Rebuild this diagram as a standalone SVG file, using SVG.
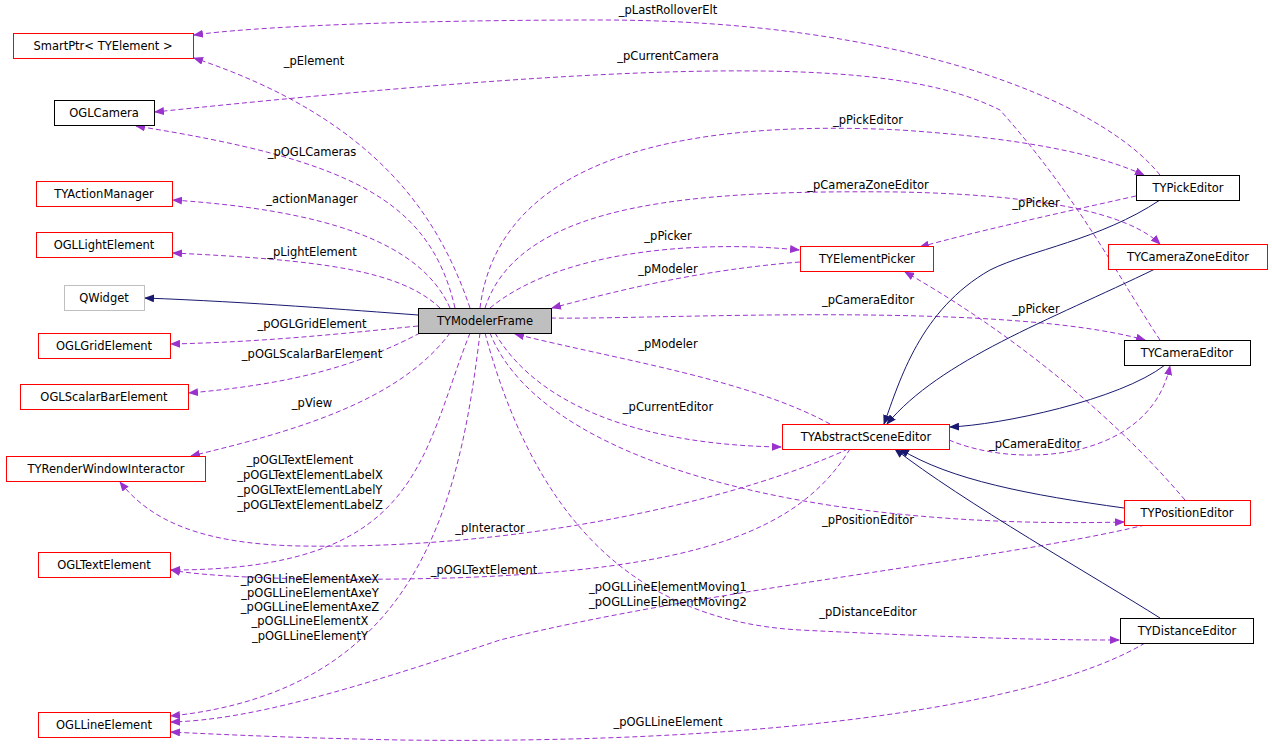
<svg xmlns="http://www.w3.org/2000/svg" width="1272" height="748" viewBox="0 0 1272 748">
<style>
text{font-family:"DejaVu Sans",sans-serif;font-size:11.5px;fill:#000}
.n rect{fill:#fff;stroke:#f00;stroke-width:1}
.k rect{stroke:#000}
.g rect{stroke:#bfbfbf}
.e path{fill:none}
.d{stroke:#9a32cd;stroke-dasharray:5,3}
.i{stroke:#191970}
.lt{text-anchor:middle}
</style>
<defs>
<marker id="ap" markerWidth="10" markerHeight="8" refX="9" refY="4" orient="auto" markerUnits="userSpaceOnUse"><path d="M0,0L10,4L0,8z" fill="#9a32cd"/></marker>
<marker id="an" markerWidth="10" markerHeight="8" refX="9" refY="4" orient="auto" markerUnits="userSpaceOnUse"><path d="M0,0L10,4L0,8z" fill="#191970"/></marker>
</defs>
<rect width="1272" height="748" fill="#fff"/>
<g class="e">
<g class="d" marker-end="url(#ap)">
<path d="M1160,175C1100,100 900,20 600,20C400,20 250,27 194,35"/>
<path d="M470,308C440,220 380,120 194,58"/>
<path d="M1160,340C1120,280 1080,200 1000,110C900,60 700,55 155,112"/>
<path d="M455,308C430,200 350,160 136,126"/>
<path d="M450,308C420,240 320,210 173,200"/>
<path d="M440,308C400,270 320,260 173,253"/>
<path d="M418,326C330,335 260,342 171,344"/>
<path d="M420,333C350,370 280,385 189,393"/>
<path d="M450,333C400,400 300,430 191,456"/>
<path d="M470,333C420,460 420,570 171,570"/>
<path d="M480,333C460,500 420,690 171,716"/>
<path d="M480,308C500,150 700,120 900,130C1050,140 1110,160 1144,175"/>
<path d="M485,308C520,200 700,190 900,192C1050,195 1130,215 1160,244"/>
<path d="M1136,196C1050,215 970,233 920,247"/>
<path d="M490,308C560,250 700,240 799,250"/>
<path d="M551,318C650,320 1000,300 1145,340"/>
<path d="M1185,500C1100,400 990,320 905,272"/>
<path d="M495,333C540,410 650,445 781,447"/>
<path d="M949,440C1020,470 1150,460 1170,366"/>
<path d="M490,333C540,460 800,530 1124,522"/>
<path d="M848,449C760,490 550,550 300,546C200,544 150,520 120,482"/>
<path d="M850,449C800,530 700,570 450,578C300,582 200,576 171,570"/>
<path d="M485,333C530,500 620,620 800,630C1000,640 1080,640 1119,640"/>
<path d="M800,262C700,270 620,290 552,308"/>
<path d="M830,424C750,380 620,360 515,334"/>
<path d="M1145,525C1000,560 700,590 500,640C350,690 250,720 171,722"/>
<path d="M1145,643C1050,700 800,745 400,740C300,738 230,735 171,732"/>
</g>
<g class="i" marker-end="url(#an)">
<path d="M418,315C350,310 250,302 145,298"/>
<path d="M1160,200C1100,240 1030,250 990,270C920,310 900,380 884,424"/>
<path d="M1155,269C1050,320 940,360 887,424"/>
<path d="M1165,365C1120,400 1000,425 950,427"/>
<path d="M1124,508C1030,495 950,480 900,449"/>
<path d="M1160,618C1100,580 960,500 895,449"/>
</g>
</g>
<g class="n"><g id="n1"><rect x="13.5" y="33.5" width="180" height="25"/><text x="103" y="50" class="lt">SmartPtr&lt; TYElement &gt;</text></g>
<g id="n2" class="k"><rect x="54.5" y="100.5" width="100" height="25"/><text x="104" y="117" class="lt">OGLCamera</text></g>
<g id="n3"><rect x="36.5" y="181.5" width="136" height="25"/><text x="104" y="198" class="lt">TYActionManager</text></g>
<g id="n4"><rect x="36.5" y="232.5" width="136" height="25"/><text x="104" y="249" class="lt">OGLLightElement</text></g>
<g id="n5" class="g"><rect x="64.5" y="285.5" width="80" height="25"/><text x="104" y="302" class="lt">QWidget</text></g>
<g id="n6"><rect x="38.5" y="333.5" width="132" height="25"/><text x="104" y="350" class="lt">OGLGridElement</text></g>
<g id="n7"><rect x="20.5" y="384.5" width="168" height="25"/><text x="104" y="401" class="lt">OGLScalarBarElement</text></g>
<g id="n8"><rect x="6.5" y="456.5" width="199" height="25"/><text x="106" y="473" class="lt">TYRenderWindowInteractor</text></g>
<g id="n9"><rect x="38.5" y="552.5" width="132" height="25"/><text x="104" y="569" class="lt">OGLTextElement</text></g>
<g id="n10"><rect x="38.5" y="712.5" width="132" height="25"/><text x="104" y="729" class="lt">OGLLineElement</text></g>
<g id="n11" class="k"><rect x="418.5" y="308.5" width="133" height="25" style="fill:#bfbfbf"/><text x="485" y="325" class="lt">TYModelerFrame</text></g>
<g id="n12" class="k"><rect x="1136.5" y="175.5" width="103" height="25"/><text x="1188" y="192" class="lt">TYPickEditor</text></g>
<g id="n13"><rect x="800.5" y="246.5" width="133" height="25"/><text x="867" y="263" class="lt">TYElementPicker</text></g>
<g id="n14"><rect x="1108.5" y="244.5" width="159" height="25"/><text x="1188" y="261" class="lt">TYCameraZoneEditor</text></g>
<g id="n15" class="k"><rect x="1124.5" y="340.5" width="126" height="25"/><text x="1187" y="357" class="lt">TYCameraEditor</text></g>
<g id="n16"><rect x="782.5" y="424.5" width="167" height="25"/><text x="866" y="441" class="lt">TYAbstractSceneEditor</text></g>
<g id="n17"><rect x="1124.5" y="500.5" width="126" height="25"/><text x="1187" y="517" class="lt">TYPositionEditor</text></g>
<g id="n18" class="k"><rect x="1120.5" y="618.5" width="133" height="25"/><text x="1187" y="635" class="lt">TYDistanceEditor</text></g>
</g>
<g class="lt">
<text x="668" y="14">_pLastRolloverElt</text>
<text x="314" y="65">_pElement</text>
<text x="668" y="60">_pCurrentCamera</text>
<text x="312" y="156">_pOGLCameras</text>
<text x="312" y="203">_actionManager</text>
<text x="312" y="256">_pLightElement</text>
<text x="312" y="328">_pOGLGridElement</text>
<text x="312" y="358">_pOGLScalarBarElement</text>
<text x="312" y="407">_pView</text>
<text x="300" y="464">_pOGLTextElement</text>
<text x="310" y="479">_pOGLTextElementLabelX</text>
<text x="310" y="494">_pOGLTextElementLabelY</text>
<text x="310" y="509">_pOGLTextElementLabelZ</text>
<text x="310" y="583">_pOGLLineElementAxeX</text>
<text x="310" y="597">_pOGLLineElementAxeY</text>
<text x="310" y="611">_pOGLLineElementAxeZ</text>
<text x="310" y="625">_pOGLLineElementX</text>
<text x="310" y="640">_pOGLLineElementY</text>
<text x="868" y="124">_pPickEditor</text>
<text x="868" y="189">_pCameraZoneEditor</text>
<text x="1036" y="207">_pPicker</text>
<text x="668" y="240">_pPicker</text>
<text x="668" y="273">_pModeler</text>
<text x="868" y="304">_pCameraEditor</text>
<text x="1036" y="313">_pPicker</text>
<text x="668" y="348">_pModeler</text>
<text x="668" y="411">_pCurrentEditor</text>
<text x="1035" y="448">_pCameraEditor</text>
<text x="868" y="524">_pPositionEditor</text>
<text x="490" y="532">_pInteractor</text>
<text x="484" y="574">_pOGLTextElement</text>
<text x="668" y="591">_pOGLLineElementMoving1</text>
<text x="668" y="606">_pOGLLineElementMoving2</text>
<text x="868" y="616">_pDistanceEditor</text>
<text x="668" y="726">_pOGLLineElement</text>
</g>
</svg>
